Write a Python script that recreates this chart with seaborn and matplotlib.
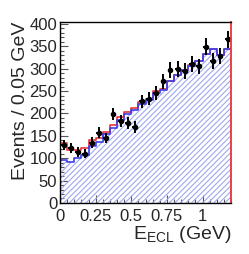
import numpy as np
import pandas as pd
import matplotlib
matplotlib.use("Agg")
import matplotlib.pyplot as plt
from matplotlib.ticker import MultipleLocator, FixedLocator
import seaborn as sns

# data
centers = np.round(np.arange(0.025, 1.2, 0.05), 3)
data = [130, 122, 114, 110, 135, 157, 145, 199, 184, 178, 170, 227,
        233, 246, 272, 297, 299, 295, 311, 305, 349, 318, 328, 366]
total = [133, 119, 119, 123, 141, 145, 159, 174, 191, 203, 213, 226,
         233, 249, 255, 273, 286, 298, 308, 318, 333, 345, 330, 345]
bkg = [95, 92, 100, 108, 127, 136, 153, 168, 185, 198, 208, 220,
       229, 245, 253, 272, 285, 297, 307, 318, 333, 345, 330, 345]
xticks = [0, 0.25, 0.5, 0.75, 1]
xticklabels = ["0", "0.25", "0.5", "0.75", "1"]

df = pd.DataFrame({"E": centers, "data": data, "total": total, "bkg": bkg})
hist_kw = dict(data=df, x="E", binwidth=0.05, binrange=(0, 1.2), element="step")

sns.set_style("ticks")
plt.rcParams["font.family"] = ["Liberation Sans", "DejaVu Sans"]
plt.rcParams["mathtext.default"] = "regular"
plt.rcParams["hatch.linewidth"] = 0.8

fig = plt.figure(figsize=(2.49, 2.54), dpi=100)
ax = fig.add_axes([0.241, 0.201, 0.687, 0.712])

# hatched background
sns.histplot(weights="bkg", fill=True, ax=ax, **hist_kw)
poly = ax.collections[-1]
poly.set_facecolor("none")
poly.set_edgecolor("#9fa8f0")
poly.set_hatch("//////")
poly.set_linewidth(0)

# total (red) and background (blue) outlines
sns.histplot(weights="total", fill=False, color="#e8323c", linewidth=1.2,
             ax=ax, **hist_kw)
sns.histplot(weights="bkg", fill=False, color="#3b3fe8", linewidth=1.2,
             ax=ax, **hist_kw)

ax.errorbar(df["E"], df["data"], yerr=np.sqrt(df["data"]), xerr=0.02,
            fmt="o", color="black", ms=3, elinewidth=1.4, capsize=0)

ax.set_xlim(0, 1.2)
ax.set_ylim(0, 404)
ax.xaxis.set_major_locator(FixedLocator(xticks))
ax.set_xticklabels(xticklabels)
ax.xaxis.set_minor_locator(MultipleLocator(0.05))
ax.yaxis.set_major_locator(MultipleLocator(50))
ax.yaxis.set_minor_locator(MultipleLocator(10))
ax.tick_params(which="both", direction="in", labelsize=12,
               color="#555555", width=0.8)
ax.tick_params(axis="x", pad=4.5)
ax.tick_params(axis="y", pad=2)
ax.tick_params(which="major", length=6)
ax.tick_params(which="minor", length=3)
for s in ax.spines.values():
    s.set_linewidth(1.0)
    s.set_color("black")
ax.spines["right"].set_color("#e8323c")
ax.spines["right"].set_linewidth(1.3)

ax.set_xlabel(r"E$_{ECL}$ (GeV)", fontsize=14, loc="right", labelpad=0)
ax.set_ylabel("Events / 0.05 GeV", fontsize=14, loc="top", labelpad=0)

fig.savefig("out.png", dpi=100)
